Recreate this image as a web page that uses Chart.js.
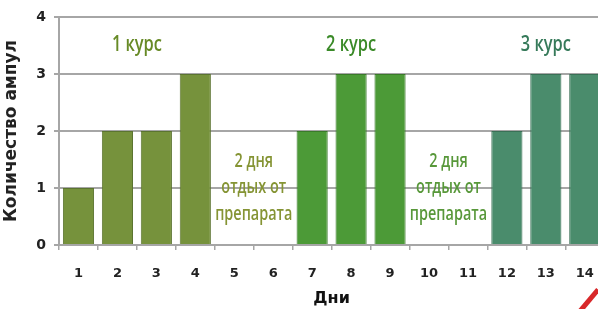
<!DOCTYPE html>
<html>
<head>
<meta charset="utf-8">
<script src="https://cdn.jsdelivr.net/npm/chart.js@4"></script>
<style>
html,body{margin:0;padding:0;background:#fff;overflow:hidden;width:598px;height:309px;}
#wrap{position:relative;width:610px;height:309px;}
#slash{position:absolute;left:586px;top:286px;width:5px;height:30px;background:#d8282a;transform:rotate(40deg);}
</style>
</head>
<body>
<div id="wrap"><canvas id="c" width="610" height="309"></canvas><div id="slash"></div></div>
<script>
const days = ['1','2','3','4','5','6','7','8','9','10','11','12','13','14'];
const ampoules = [1,2,2,3,0,0,2,3,3,0,0,2,3,3];
const course = [1,1,1,1,0,0,2,2,2,0,0,3,3,3];
const courseLabels = [
  {text:'1 курс', from:0, to:3, color:'#678a26'},
  {text:'2 курс', from:6, to:8, color:'#3a8a28'},
  {text:'3 курс', from:11, to:13, color:'#367a5a'}
];
const restLabels = [
  {lines:['2 дня','отдых от','препарата'], from:4, to:5, color:'#859434'},
  {lines:['2 дня','отдых от','препарата'], from:9, to:10, color:'#58983a'}
];
const yTitle = 'Количество ампул';
const xTitle = 'Дни';

const fillColors = {1:'#76923c',2:'#4c9a37',3:'#4a8c6c',0:'#ffffff'};
const edgeColors = {1:'#5b7430',2:'#3a7a2a',3:'#3a7056',0:'#ffffff'};

function narrowText(ctx, text, cx, cy, sx){
  ctx.save();
  ctx.translate(cx, cy);
  ctx.scale(sx, 1);
  ctx.fillText(text, 0, 0);
  ctx.restore();
}

const annot = {
  id:'annot',
  afterDatasetsDraw(chart){
    const ctx = chart.ctx, x = chart.scales.x, y = chart.scales.y;
    ctx.save();
    ctx.textAlign='center'; ctx.textBaseline='middle';
    ctx.font = '600 21px "Open Sans", "Liberation Sans", sans-serif';
    courseLabels.forEach(c=>{
      const cx = (x.getPixelForValue(c.from)+x.getPixelForValue(c.to))/2;
      ctx.fillStyle=c.color;
      narrowText(ctx, c.text, cx, y.getPixelForValue(3.5), 0.78);
    });
    ctx.font = '600 19px "Open Sans", "Liberation Sans", sans-serif';
    restLabels.forEach(r=>{
      const cx = (x.getPixelForValue(r.from)+x.getPixelForValue(r.to))/2;
      ctx.fillStyle=r.color;
      const cy = y.getPixelForValue(1);
      r.lines.forEach((l,i)=>narrowText(ctx, l, cx, cy + (i-1)*26.5, 0.76));
    });
    ctx.restore();
  }
};

new Chart(document.getElementById('c'), {
  type:'bar',
  data:{labels:days, datasets:[{
    data:ampoules,
    backgroundColor:course.map(c=>fillColors[c]),
    borderColor:course.map(c=>edgeColors[c]),
    borderWidth:1,
    barPercentage:0.8,
    categoryPercentage:1
  }]},
  options:{
    responsive:false, animation:false,
    layout:{padding:{top:17,right:5,left:0,bottom:0}},
    plugins:{legend:{display:false},tooltip:{enabled:false}},
    scales:{
      x:{
        grid:{drawOnChartArea:false, drawTicks:true, tickLength:5, color:'#a6a6a6', lineWidth:1.5, offset:true},
        border:{color:'#a6a6a6', width:2},
        ticks:{color:'#222', font:{family:'"DejaVu Sans", sans-serif', size:13, weight:'bold'}, padding:16, maxRotation:0},
        title:{display:true, text:xTitle, color:'#111', font:{family:'"DejaVu Sans", sans-serif', size:16, weight:'bold'}, padding:{top:0,bottom:1}},
        afterFit(s){ s.height = 64; }
      },
      y:{
        min:0, max:4,
        grid:{color:'#a6a6a6', lineWidth:2, tickLength:5},
        border:{color:'#a6a6a6', width:2},
        ticks:{stepSize:1, color:'#222', font:{family:'"DejaVu Sans", sans-serif', size:14, weight:'bold'}, padding:8},
        title:{display:true, text:yTitle, color:'#222', font:{family:'"DejaVu Sans", sans-serif', size:17, weight:'bold'}, padding:{top:1,bottom:0}},
        afterFit(s){ s.width = 59; }
      }
    }
  },
  plugins:[annot]
});
</script>
</body>
</html>
